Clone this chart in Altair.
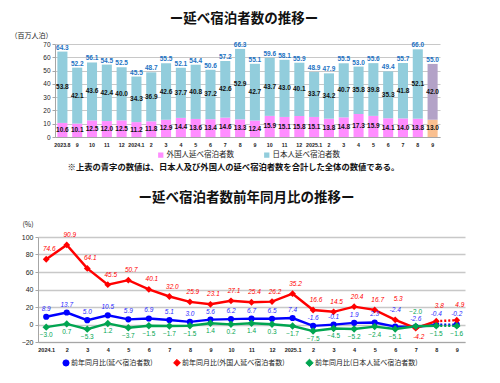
import altair as alt
import pandas as pd

FONT = "Noto Sans CJK JP"
NUMFONT = "Liberation Sans"

# ---------------- top chart data (百万人泊) ----------------
months_top = ["2023.8", "2023.9", "2023.10", "2023.11", "2023.12",
              "2024.1", "2024.2", "2024.3", "2024.4", "2024.5", "2024.6",
              "2024.7", "2024.8", "2024.9", "2024.10", "2024.11", "2024.12",
              "2025.1", "2025.2", "2025.3", "2025.4", "2025.5", "2025.6",
              "2025.7", "2025.8", "2025.9"]
tick_top = ["2023.8", "9", "10", "11", "12", "2024.1", "2", "3", "4", "5", "6",
            "7", "8", "9", "10", "11", "12", "2025.1", "2", "3", "4", "5", "6",
            "7", "8", "9"]
total = [64.3, 52.2, 56.1, 54.5, 52.5, 45.5, 48.7, 55.5, 52.1, 54.4, 50.6,
         57.2, 66.3, 55.1, 59.6, 58.1, 55.9, 48.9, 47.9, 55.5, 53.0, 55.6,
         49.4, 55.7, 66.0, 55.0]
japanese = [53.8, 42.1, 43.6, 42.4, 40.0, 34.3, 36.9, 42.6, 37.7, 40.8, 37.2,
            42.6, 52.9, 42.7, 43.7, 43.0, 40.1, 33.7, 34.2, 40.7, 35.8, 39.8,
            35.3, 41.8, 52.1, 42.0]
foreign = [10.6, 10.1, 12.5, 12.0, 12.5, 11.2, 11.8, 12.9, 14.4, 13.6, 13.4,
           14.6, 13.3, 12.4, 15.9, 15.1, 15.8, 15.1, 13.8, 14.8, 17.3, 15.9,
           14.1, 14.0, 13.8, 13.0]

# ---------------- bottom chart data (前年同月比, %) ----------------
months_bot = ["2024.1", "2024.2", "2024.3", "2024.4", "2024.5", "2024.6",
              "2024.7", "2024.8", "2024.9", "2024.10", "2024.11", "2024.12",
              "2025.1", "2025.2", "2025.3", "2025.4", "2025.5", "2025.6",
              "2025.7", "2025.8", "2025.9"]
tick_bot = ["2024.1", "2", "3", "4", "5", "6", "7", "8", "9", "10", "11", "12",
            "2025.1", "2", "3", "4", "5", "6", "7", "8", "9"]
yoy_total = [8.9, 13.7, 5.0, 10.5, 5.9, 6.9, 5.1, 3.0, 5.6, 6.2, 6.7, 6.5,
             7.4, -1.6, -0.1, 1.9, 2.3, -2.4, -2.6, -0.4, -0.2]
yoy_foreign = [74.6, 90.9, 64.1, 45.5, 50.7, 40.1, 32.0, 25.9, 23.1, 27.1,
               25.4, 26.2, 35.2, 16.6, 14.5, 20.4, 16.7, 5.3, -4.2, 3.8, 4.9]
yoy_japanese = [-3.0, 0.7, -5.3, 1.2, -3.7, -1.5, -1.7, -1.5, 1.4, 0.2, 1.4,
                0.3, -1.7, -7.5, -4.5, -5.2, -2.4, -5.1, -2.0, -1.5, -1.6]

TITLE_TOP = "ー延べ宿泊者数の推移ー"
TITLE_BOT = "ー延べ宿泊者数前年同月比の推移ー"
NOTE = "※上表の青字の数値は、日本人及び外国人の延べ宿泊者数を合計した全体の数値である。"

S_FOR = "外国人延べ宿泊者数"
S_JPN = "日本人延べ宿泊者数"
S_FOR_P = "外国人延べ宿泊者数(速報)"
S_JPN_P = "日本人延べ宿泊者数(速報)"

Y_TOT = "前年同月比(延べ宿泊者数)"
Y_FOR = "前年同月比(外国人延べ宿泊者数)"
Y_JPN = "前年同月比(日本人延べ宿泊者数)"


def label_expr(keys, labels):
    k = ",".join(f"'{x}'" for x in keys)
    lab = ",".join(f"'{x}'" for x in labels)
    return f"[{lab}][indexof([{k}], datum.value)]"


# ---------------- build top table ----------------
rows = []
n_top = len(months_top)
for i, m in enumerate(months_top):
    last = i == n_top - 1
    rows.append(dict(month=m, series=S_FOR_P if last else S_FOR,
                     start=0.0, end=foreign[i], value=foreign[i],
                     mid=foreign[i] / 2))
    rows.append(dict(month=m, series=S_JPN_P if last else S_JPN,
                     start=foreign[i], end=total[i], value=japanese[i],
                     mid=(foreign[i] + total[i]) / 2))
bars_df = pd.DataFrame(rows)
tot_df = pd.DataFrame({"month": months_top, "total": total})

TOP_W, TOP_H = 402, 93
x_top = alt.X(
    "month:N", sort=months_top, title=NOTE,
    scale=alt.Scale(range=[17, TOP_W], paddingInner=0.32, paddingOuter=0.16),
    axis=alt.Axis(labelExpr=label_expr(months_top, tick_top), labelAngle=0,
                  labelFont=NUMFONT, labelFontSize=5.3,
                  labelFontWeight="bold", labelPadding=5,
                  ticks=False, domainColor="#a6a6a6", labelColor="#222",
                  titleFont=FONT, titleFontSize=8.3, titleFontWeight="bold",
                  titleColor="#111", titleX=195, titleY=30,
                  titleAlign="center", titleBaseline="middle",
                  titleAnchor="start"))
y_scale_top = alt.Scale(domain=[0, 70], nice=False)
y_axis_top = alt.Axis(tickCount=7, labelOverlap=False, grid=True,
                      offset=-17, gridColor="#c8c8c8", gridWidth=1.2,
                      domainColor="#a6a6a6", tickColor="#a6a6a6", tickSize=3,
                      labelFont=NUMFONT, labelFontSize=6.5, labelPadding=2,
                      labelColor="#222",
                      title="（百万人泊）", titleAngle=0, titleX=-45, titleY=-9,
                      titleAlign="left", titleBaseline="middle",
                      titleFont=FONT, titleFontSize=7,
                      titleFontWeight="normal", titleColor="#222")

bars = alt.Chart(bars_df).mark_bar().encode(
    x=x_top,
    y=alt.Y("start:Q", scale=y_scale_top, axis=y_axis_top),
    y2="end:Q",
    color=alt.Color(
        "series:N",
        scale=alt.Scale(domain=[S_FOR, S_JPN, S_FOR_P, S_JPN_P],
                        range=["#FF8DFF", "#92CDDC", "#FAC090", "#B3A2C7"]),
        legend=alt.Legend(values=[S_FOR, S_JPN], title=None, orient="none",
                          direction="horizontal", legendX=119, legendY=107,
                          symbolType="square", symbolSize=28,
                          symbolStrokeWidth=0, labelFont=FONT,
                          labelFontSize=7.5, labelOffset=2,
                          columnPadding=29, padding=0, labelColor="#222")),
)
seg_text = alt.Chart(bars_df).mark_text(
    font=NUMFONT, fontSize=6.5, fontWeight="bold", color="#111").encode(
    x=x_top, y=alt.Y("mid:Q", scale=y_scale_top, axis=y_axis_top),
    text=alt.Text("value:Q", format=".1f"))
tot_text = alt.Chart(tot_df).mark_text(
    font=NUMFONT, fontSize=6.5, fontWeight="bold", color="#2272C3",
    baseline="bottom", dy=-1).encode(
    x=x_top, y=alt.Y("total:Q", scale=y_scale_top, axis=y_axis_top),
    text=alt.Text("total:Q", format=".1f"))

top = alt.layer(bars, seg_text, tot_text).properties(
    width=TOP_W, height=TOP_H,
    title=alt.Title(TITLE_TOP, font=FONT, fontSize=13.5, fontWeight="bold",
                    anchor="middle", frame="group", dx=5, offset=6,
                    color="#111"))

# ---------------- build bottom table ----------------
BOT_W, BOT_H = 427, 105
px_to_unit = 120 / BOT_H
base_dy = {Y_TOT: 8, Y_FOR: 10, Y_JPN: -8}  # pixels above (+) / below (-)
dy_override = {(Y_FOR, "2025.6"): 21, (Y_FOR, "2025.7"): -9,
               (Y_FOR, "2025.8"): 15, (Y_FOR, "2025.9"): 15,
               (Y_TOT, "2025.6"): 17, (Y_TOT, "2025.8"): 11,
               (Y_TOT, "2025.9"): 11, (Y_JPN, "2025.7"): 14}

rows = []
n_bot = len(months_bot)
for name, vals in [(Y_TOT, yoy_total), (Y_FOR, yoy_foreign),
                   (Y_JPN, yoy_japanese)]:
    for i, m in enumerate(months_bot):
        d = dy_override.get((name, m), base_dy[name])
        txt = f"{vals[i]:.1f}"
        if name == Y_JPN:
            txt = txt.replace("-", "\u2212")
        rows.append(dict(month=m, series=name, value=vals[i], idx=i,
                         label=txt, label_y=vals[i] + d * px_to_unit))
yoy_df = pd.DataFrame(rows)

x_bot = alt.X("month:N", sort=months_bot, title=None,
              scale=alt.Scale(type="point", padding=0.4),
              axis=alt.Axis(labelExpr=label_expr(months_bot, tick_bot),
                            labelAngle=0, labelFont=NUMFONT,
                            labelFontSize=5.5, labelFontWeight="bold",
                            labelPadding=5, ticks=False,
                            domainColor="#a6a6a6", labelColor="#222"))
y_scale_bot = alt.Scale(domain=[-20, 100], nice=False)
y_axis_bot = alt.Axis(tickCount=6, labelOverlap=False, grid=True,
                      gridColor="#c8c8c8", gridWidth=1.5,
                      domainColor="#a6a6a6", tickColor="#a6a6a6",
                      tickSize=3, labelFont=NUMFONT, labelFontSize=7,
                      labelPadding=2, labelColor="#222", title="(%)",
                      titleAngle=0, titleX=-16, titleY=-13,
                      titleAlign="left", titleBaseline="middle",
                      titleFont=FONT, titleFontSize=7,
                      titleFontWeight="normal", titleColor="#222")
y_bot = alt.Y("value:Q", scale=y_scale_bot, axis=y_axis_bot)

LEG_PATH = ("M-1,-0.12L-0.4,-0.12L0,-0.5L0.4,-0.12L1,-0.12L1,0.12L0.4,0.12"
            "L0,0.5L-0.4,0.12L-1,0.12Z")
col = alt.Color("series:N",
                scale=alt.Scale(domain=[Y_TOT, Y_FOR, Y_JPN],
                                range=["#0000FF", "#FF0000", "#00A550"]),
                legend=alt.Legend(title=None, orient="none",
                                  direction="horizontal", legendX=24,
                                  legendY=121, symbolType=LEG_PATH,
                                  symbolSize=324, symbolStrokeWidth=1,
                                  labelFont=FONT, labelFontSize=7,
                                  labelOffset=1, columnPadding=18,
                                  padding=0, labelColor="#222"))
shape = alt.Shape("series:N",
                  scale=alt.Scale(domain=[Y_TOT, Y_FOR, Y_JPN],
                                  range=["circle", "diamond", "diamond"]),
                  legend=None)
size = alt.Size("series:N",
                scale=alt.Scale(domain=[Y_TOT, Y_FOR, Y_JPN],
                                range=[38, 55, 30]),
                legend=None)

base = alt.Chart(yoy_df)
solid = base.mark_line(strokeWidth=2.4).encode(
    x=x_bot, y=y_bot, color=col, detail="series:N"
).transform_filter(alt.datum.idx <= n_bot - 2)
dotted = base.mark_line(strokeWidth=2.4, strokeDash=[2, 2]).encode(
    x=x_bot, y=y_bot, color=col, detail="series:N"
).transform_filter(alt.datum.idx >= n_bot - 2)
pts = base.mark_point(filled=True, opacity=1).encode(
    x=x_bot, y=y_bot, color=col, shape=shape, size=size)


def lab_layer(name, color, italic, dx):
    return base.mark_text(font=NUMFONT, fontSize=6.5, color=color, dx=dx,
                          fontStyle="italic" if italic else "normal",
                          baseline="middle").encode(
        x=x_bot, y=alt.Y("label_y:Q", scale=y_scale_bot, axis=y_axis_bot),
        text="label:N"
    ).transform_filter(alt.datum.series == name)


bottom = alt.layer(
    solid, dotted, pts,
    lab_layer(Y_FOR, "#FF0000", True, 3),
    lab_layer(Y_TOT, "#2B2BFF", True, 0),
    lab_layer(Y_JPN, "#00A550", False, 0),
).properties(
    width=BOT_W, height=BOT_H,
    title=alt.Title(TITLE_BOT, font=FONT, fontSize=13.5, fontWeight="bold",
                    anchor="middle", frame="group", dx=-5, offset=16,
                    color="#111"))

chart = alt.vconcat(top, bottom, spacing=19).resolve_scale(
    color="independent", shape="independent", size="independent"
).resolve_legend(color="independent").properties(
    padding={"left": 2, "top": 3, "right": 5, "bottom": 2}
).configure(font=FONT).configure_view(stroke=None)

chart.save("out.html", embed_options={"renderer": "svg", "actions": False})
